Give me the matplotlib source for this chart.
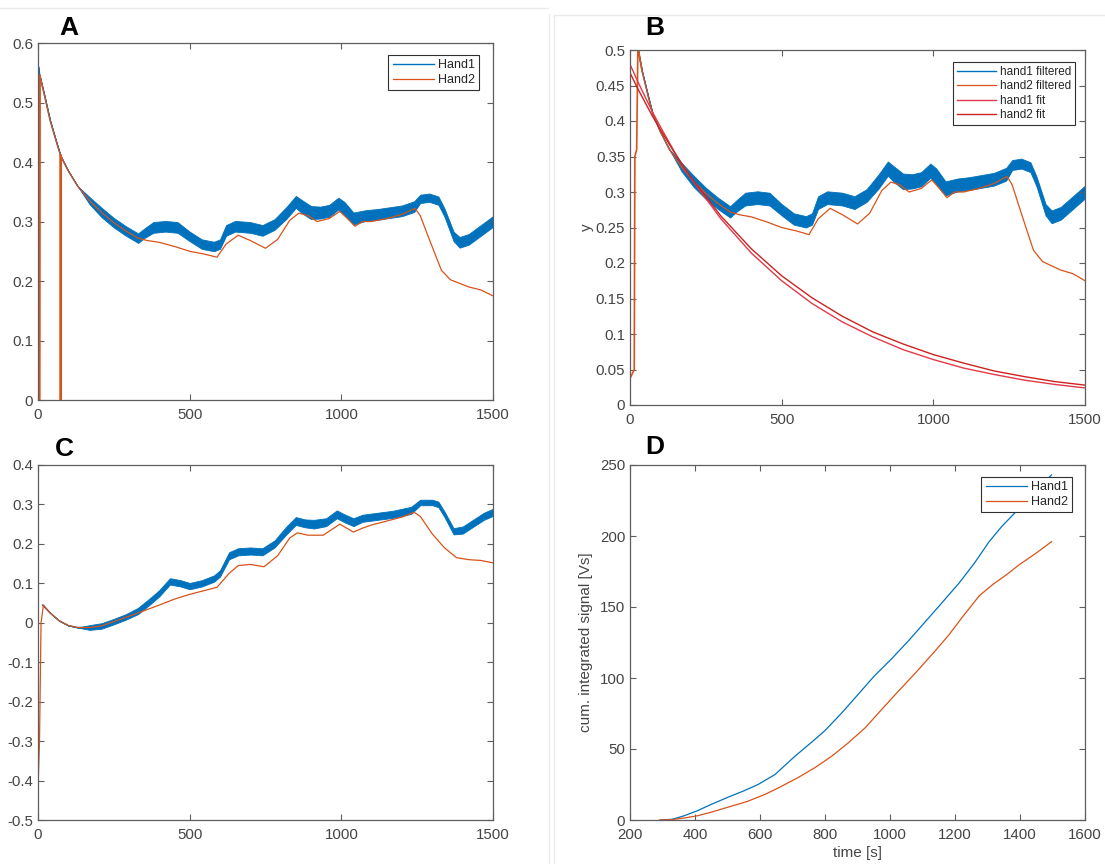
import matplotlib
matplotlib.use('Agg')
import matplotlib.pyplot as plt
from matplotlib.lines import Line2D

plt.rcParams['font.family'] = ['Liberation Sans', 'DejaVu Sans']

# ---------------- data ----------------
# shared filtered signals (panels A and B)
t_hand1 = [6, 20, 40, 60, 75, 100, 130, 170, 210, 250, 290, 330, 350, 380, 420, 460, 500, 540,
           580, 600, 620, 650, 700, 740, 780, 820, 850, 870, 900, 930, 960, 990, 1010, 1040,
           1080, 1120, 1160, 1200, 1240, 1260, 1290, 1320, 1340, 1370, 1390, 1420, 1460, 1500]
hand1_filtered = [0.545, 0.515, 0.47, 0.435, 0.41, 0.385, 0.36, 0.335, 0.315, 0.298, 0.284, 0.272,
                  0.28, 0.29, 0.292, 0.29, 0.275, 0.262, 0.258, 0.262, 0.285, 0.292, 0.29, 0.285,
                  0.295, 0.315, 0.333, 0.325, 0.315, 0.315, 0.318, 0.33, 0.322, 0.305, 0.31, 0.312,
                  0.315, 0.318, 0.325, 0.338, 0.34, 0.335, 0.315, 0.275, 0.265, 0.27, 0.285, 0.30]
hand1_band = [0, 0, 0, 0, 0, 0, 0, 0.006, 0.008, 0.008, 0.008, 0.008, 0.008, 0.009, 0.009, 0.009,
              0.008, 0.008, 0.008, 0.008, 0.009, 0.009, 0.009, 0.009, 0.009, 0.010, 0.010, 0.011,
              0.011, 0.010, 0.010, 0.010, 0.011, 0.010, 0.009, 0.009, 0.009, 0.009, 0.009, 0.007,
              0.007, 0.007, 0.007, 0.008, 0.009, 0.009, 0.009, 0.009]

t_hand2 = [6, 20, 40, 60, 75, 100, 130, 170, 210, 250, 290, 330, 360, 400, 450, 500, 550, 590,
           620, 660, 700, 750, 790, 830, 860, 890, 920, 960, 995, 1020, 1045, 1070, 1100, 1150,
           1200, 1243, 1260, 1290, 1330, 1360, 1385, 1420, 1460, 1500]
hand2_filtered = [0.545, 0.515, 0.47, 0.435, 0.41, 0.385, 0.36, 0.335, 0.315, 0.298, 0.284, 0.272,
                  0.268, 0.265, 0.258, 0.25, 0.245, 0.24, 0.262, 0.277, 0.268, 0.255, 0.27, 0.302,
                  0.314, 0.31, 0.30, 0.305, 0.317, 0.305, 0.292, 0.30, 0.30, 0.305, 0.312, 0.322,
                  0.31, 0.27, 0.218, 0.202, 0.197, 0.19, 0.185, 0.175]

# panel A raw start / dropout
a_hand1_start_t = [0, 2, 6]
a_hand1_start = [0.05, 0.56, 0.545]
a_hand2_start_t = [0, 5, 6]
a_hand2_start = [0.0, 0.0, 0.545]
a_hand2_drop_t = [74.5, 75, 75.5]
a_hand2_drop = [0.411, 0.0, 0.41]

# panel B start of hand2 and fits
b_hand2_start_t = [3, 14, 16, 22, 26, 40]
b_hand2_start = [0.04, 0.05, 0.35, 0.36, 0.505, 0.47]
fit_t = [0, 25, 50, 75, 100, 150, 200, 300, 400, 500, 600, 700, 800, 900, 1000, 1100, 1200,
         1300, 1400, 1500]
hand1_fit = [0.480, 0.456, 0.434, 0.412, 0.392, 0.354, 0.320, 0.262, 0.214, 0.175, 0.143, 0.117,
             0.096, 0.078, 0.064, 0.052, 0.043, 0.035, 0.029, 0.024]
hand2_fit = [0.468, 0.446, 0.426, 0.406, 0.388, 0.353, 0.321, 0.266, 0.220, 0.182, 0.151, 0.125,
             0.103, 0.086, 0.071, 0.059, 0.048, 0.040, 0.033, 0.028]

# panel C
c_t1 = [15, 40, 70, 100, 130, 170, 210, 250, 290, 330, 370, 400, 435, 470, 500, 540, 580, 600,
        630, 660, 700, 740, 780, 820, 850, 880, 910, 950, 985, 1010, 1040, 1070, 1120, 1170,
        1230, 1260, 1300, 1320, 1340, 1370, 1400, 1440, 1470, 1500]
c_hand1 = [0.045, 0.025, 0.005, -0.007, -0.012, -0.012, -0.008, 0.003, 0.015, 0.03, 0.055, 0.075,
           0.105, 0.1, 0.093, 0.1, 0.112, 0.125, 0.17, 0.18, 0.182, 0.18, 0.2, 0.235, 0.258,
           0.252, 0.25, 0.255, 0.275, 0.265, 0.255, 0.265, 0.27, 0.275, 0.285, 0.305, 0.305,
           0.3, 0.275, 0.232, 0.235, 0.255, 0.27, 0.28]
c_band = [0, 0, 0, 0, 0, 0.006, 0.007, 0.007, 0.007, 0.008, 0.008, 0.008, 0.008, 0.008, 0.008,
          0.008, 0.008, 0.008, 0.009, 0.009, 0.009, 0.009, 0.009, 0.010, 0.010, 0.010, 0.011,
          0.010, 0.010, 0.010, 0.010, 0.009, 0.009, 0.009, 0.009, 0.007, 0.007, 0.007, 0.007,
          0.008, 0.009, 0.009, 0.009, 0.009]
c_t2 = [0, 5, 10, 18, 40, 70, 100, 130, 170, 210, 250, 330, 400, 450, 500, 550, 590, 630, 660,
        700, 745, 790, 830, 855, 890, 940, 995, 1040, 1070, 1100, 1160, 1200, 1240, 1260, 1300,
        1340, 1380, 1420, 1460, 1500]
c_hand2 = [-0.42, -0.3, 0.0, 0.045, 0.025, 0.005, -0.007, -0.012, -0.012, -0.008, 0.003, 0.025,
           0.045, 0.06, 0.072, 0.082, 0.09, 0.125, 0.145, 0.148, 0.142, 0.17, 0.215, 0.228,
           0.222, 0.222, 0.25, 0.23, 0.24, 0.248, 0.26, 0.268, 0.28, 0.27, 0.225, 0.19, 0.165,
           0.16, 0.158, 0.152]

# panel D cumulative integrated signal
d_t1 = [295, 330, 367, 408, 450, 501, 550, 594, 646, 708, 760, 800, 850, 904, 950, 1007, 1060,
        1110, 1160, 1213, 1260, 1305, 1345, 1383, 1440, 1497]
d_hand1 = [0, 0.5, 3, 6.6, 11, 16, 20.5, 25, 32, 45, 55, 63, 75, 89, 101, 114, 127, 140, 153,
           167, 181, 196, 207, 216, 230, 243]
d_t2 = [290, 330, 370, 408, 450, 501, 560, 615, 660, 718, 770, 821, 870, 924, 975, 1027, 1080,
        1131, 1180, 1223, 1275, 1317, 1360, 1399, 1450, 1497]
d_hand2 = [0, 0.3, 1.5, 3, 5.5, 9, 13, 18, 23, 30, 37, 45, 54, 65, 78, 91, 104, 117, 130, 143,
           158, 166, 173, 180, 188, 196]

# ticks
x_ticks_abc = [0, 500, 1000, 1500]
a_yticks = [0, 0.1, 0.2, 0.3, 0.4, 0.5, 0.6]
a_ylabels = ['0', '0.1', '0.2', '0.3', '0.4', '0.5', '0.6']
b_yticks = [0, 0.05, 0.1, 0.15, 0.2, 0.25, 0.3, 0.35, 0.4, 0.45, 0.5]
b_ylabels = ['0', '0.05', '0.1', '0.15', '0.2', '0.25', '0.3', '0.35', '0.4', '0.45', '0.5']
c_yticks = [-0.5, -0.4, -0.3, -0.2, -0.1, 0, 0.1, 0.2, 0.3, 0.4]
c_ylabels = ['-0.5', '-0.4', '-0.3', '-0.2', '-0.1', '0', '0.1', '0.2', '0.3', '0.4']
d_xticks = [200, 400, 600, 800, 1000, 1200, 1400, 1600]
d_yticks = [0, 50, 100, 150, 200, 250]

# ---------------- style ----------------
BLUE = '#0072BD'
ORANGE = '#D95319'
FIT1 = '#E2394A'
FIT2 = '#CC2222'
AXC = '#5e5e5e'
TXT = '#444444'

W, H = 1105, 864
fig = plt.figure(figsize=(W / 100, H / 100), dpi=100)


def rect(l, t, r, b):
    return [l / W, 1 - b / H, (r - l) / W, (b - t) / H]


def style(ax):
    for s in ax.spines.values():
        s.set_color(AXC)
        s.set_linewidth(0.9)
    ax.tick_params(direction='in', length=4, width=0.8, color=AXC, top=True, right=True,
                   labelsize=10.8, labelcolor=TXT)
    ax.tick_params(axis='x', pad=5.5)
    ax.tick_params(axis='y', pad=3.5)


def legend(ax, px_right, px_top, fs=9):
    leg = ax.legend(loc='upper right', bbox_to_anchor=(px_right / W, 1 - px_top / H),
                    bbox_transform=fig.transFigure, fontsize=fs, frameon=True, fancybox=False,
                    edgecolor='#303030', framealpha=1, handlelength=3.3, handletextpad=0.3,
                    borderpad=0.35, labelspacing=0.2, borderaxespad=0)
    leg.get_frame().set_linewidth(0.8)
    for t in leg.get_texts():
        t.set_color('#262626')
    return leg


def band(ax, t, c, w):
    lo = [ci - wi for ci, wi in zip(c, w)]
    hi = [ci + wi for ci, wi in zip(c, w)]
    ax.fill_between(t, lo, hi, color=BLUE, linewidth=0.6, edgecolor=BLUE)


# ---------- Panel A ----------
axA = fig.add_axes(rect(38, 43, 493, 400))
axA.plot(a_hand1_start_t, a_hand1_start, color=BLUE, lw=1.0)
axA.plot(t_hand1, hand1_filtered, color=BLUE, lw=1.0, label='Hand1')
band(axA, t_hand1, hand1_filtered, hand1_band)
axA.plot(a_hand2_start_t, a_hand2_start, color=ORANGE, lw=1.6)
axA.plot(a_hand2_drop_t, a_hand2_drop, color=ORANGE, lw=1.6)
axA.plot(t_hand2, hand2_filtered, color=ORANGE, lw=0.9, label='Hand2')
axA.set_xlim(0, 1500)
axA.set_ylim(0, 0.6)
axA.set_xticks(x_ticks_abc, [str(v) for v in x_ticks_abc])
axA.set_yticks(a_yticks, a_ylabels)
style(axA)
legend(axA, 479, 55)

# ---------- Panel B ----------
axB = fig.add_axes(rect(630, 50, 1085, 405))
axB.plot(t_hand1, hand1_filtered, color=BLUE, lw=1.0, label='hand1 filtered')
band(axB, t_hand1, hand1_filtered, hand1_band)
axB.plot(b_hand2_start_t, b_hand2_start, color=ORANGE, lw=1.2)
axB.plot(t_hand2[2:], hand2_filtered[2:], color=ORANGE, lw=0.9, label='hand2 filtered')
axB.plot(fit_t, hand1_fit, color=FIT1, lw=1.0, label='hand1 fit')
axB.plot(fit_t, hand2_fit, color=FIT2, lw=1.0, label='hand2 fit')
axB.set_xlim(0, 1500)
axB.set_ylim(0, 0.5)
axB.set_xticks(x_ticks_abc, [str(v) for v in x_ticks_abc])
axB.set_yticks(b_yticks, b_ylabels)
style(axB)
axB.set_ylabel('y', fontsize=11, color=TXT)
axB.yaxis.set_label_coords(-0.079, 0.5)
legend(axB, 1075, 62, fs=8.5)

# ---------- Panel C ----------
axC = fig.add_axes(rect(38, 465, 493, 820))
axC.plot(c_t1, c_hand1, color=BLUE, lw=1.0)
band(axC, c_t1, c_hand1, c_band)
axC.plot(c_t2, c_hand2, color=ORANGE, lw=0.9)
axC.set_xlim(0, 1500)
axC.set_ylim(-0.5, 0.4)
axC.set_xticks(x_ticks_abc, [str(v) for v in x_ticks_abc])
axC.set_yticks(c_yticks, c_ylabels)
style(axC)

# ---------- Panel D ----------
axD = fig.add_axes(rect(630, 465, 1085, 820))
axD.plot(d_t1, d_hand1, color=BLUE, lw=0.9, label='Hand1')
axD.plot(d_t2, d_hand2, color=ORANGE, lw=0.9, label='Hand2')
axD.set_xlim(200, 1600)
axD.set_ylim(0, 250)
axD.set_xticks(d_xticks, [str(v) for v in d_xticks])
axD.set_yticks(d_yticks, [str(v) for v in d_yticks])
style(axD)
axD.set_ylabel('cum. integrated signal [Vs]', fontsize=11, color=TXT)
axD.yaxis.set_label_coords(-0.082, 0.5)
axD.set_xlabel('time [s]', fontsize=11, color=TXT)
axD.xaxis.set_label_coords(0.5, -0.073)
legend(axD, 1072, 477)

# ---------- panel letters ----------
for letter, px, py in [('A', 69, 28), ('B', 655, 28), ('C', 64, 449), ('D', 655, 447)]:
    fig.text(px / W, 1 - py / H, letter, fontsize=19, fontweight='bold', ha='center',
             va='center', color='black')

# ---------- faint page frame ----------
for xs, ys in [([549, 549], [14, 864]), ([554, 554], [15, 864]), ([554, 1105], [15, 15]),
               ([0, 548], [8, 8])]:
    fig.add_artist(Line2D([x / W for x in xs], [1 - y / H for y in ys], color='#ebebeb',
                          lw=1.0, transform=fig.transFigure))

fig.savefig('out.png', dpi=100)
